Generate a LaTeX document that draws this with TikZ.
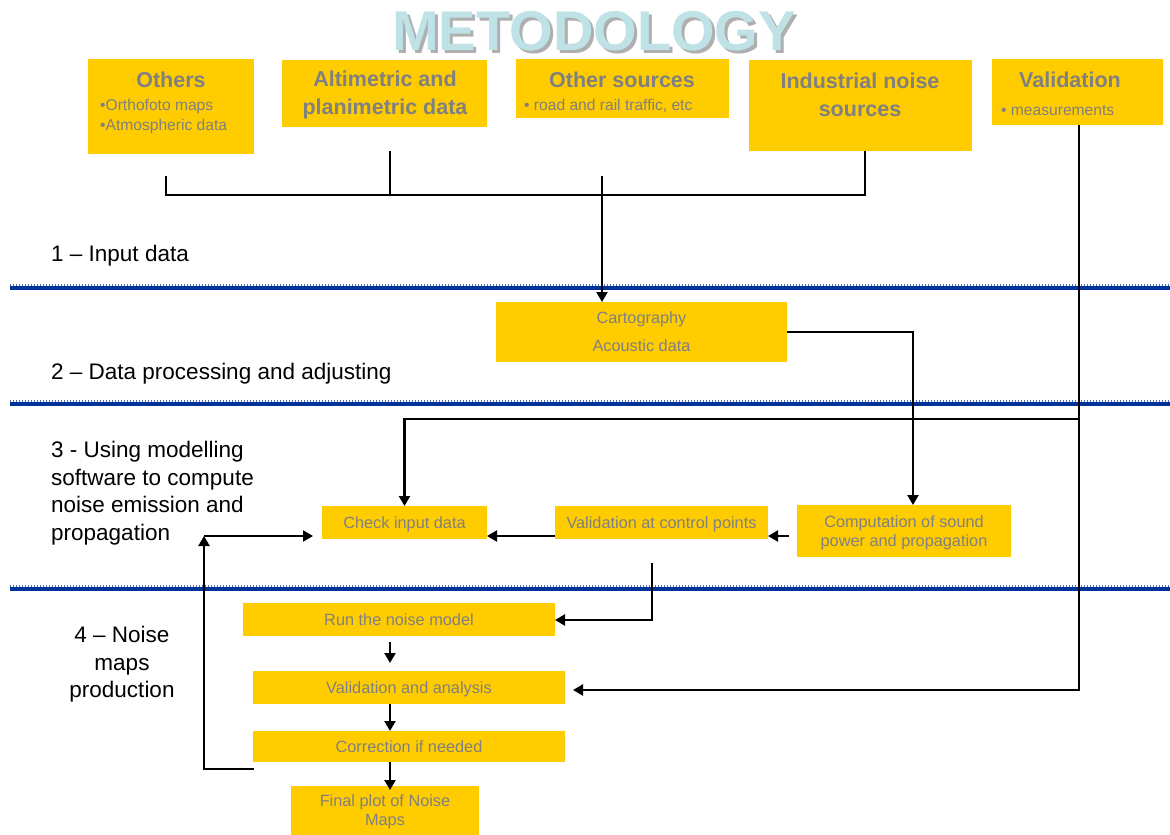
\documentclass[tikz,border=0pt]{standalone}
\usepackage{fontspec}
\setmainfont{Liberation Sans}
\usetikzlibrary{arrows.meta,calc}
\definecolor{yboxc}{RGB}{255,204,0}
\definecolor{tgray}{RGB}{128,128,128}
\definecolor{sepblue}{RGB}{0,51,153}
\definecolor{ttl}{RGB}{190,226,230}
\definecolor{shadowgray}{RGB}{175,175,175}
\begin{document}
\begin{tikzpicture}[x=1pt,y=-1pt,
 yb/.style={fill=yboxc, draw=none, inner sep=0pt, outer sep=0pt, anchor=north west, text=tgray, align=center, font=\fontsize{16.3}{19}\selectfont, text depth=-3pt},
 hdr/.style={text=tgray, font=\fontsize{21.5}{28}\selectfont\bfseries, inner sep=0pt},
 bul/.style={text=tgray, font=\fontsize{15.6}{20}\selectfont, inner sep=0pt, anchor=west},
 sec/.style={font=\fontsize{22.5}{27.5}\selectfont, inner sep=0pt, anchor=west, align=left},
 ln/.style={line width=2.2pt, black},
 arr/.style={ln, -{Triangle[length=10pt,width=11pt]}},
 sepline/.style={line width=4.5pt, sepblue},
 sepfuzz/.style={line width=1.2pt, sepblue!70, dash pattern=on 1pt off 2pt},
]
\useasboundingbox (0,0) rectangle (1170,835);

% title
\node[font=\fontsize{56}{60}\selectfont\bfseries, text=shadowgray, inner sep=0pt] at (597,34) {METODOLOGY};
\node[font=\fontsize{56}{60}\selectfont\bfseries, text=ttl, inner sep=0pt] (title) at (594,31) {METODOLOGY};

% separators
\foreach \yy in {288,404,589}{
  \draw[sepline] (10,\yy) -- (1170,\yy);
  \draw[sepfuzz] (10,\yy-3) -- (1170,\yy-3);
}

% top boxes
\node[yb, minimum width=166pt, minimum height=95pt] (oth) at (88,59) {};
\node[yb, minimum width=205pt, minimum height=67pt] (alt) at (282,60) {};
\node[yb, minimum width=213pt, minimum height=59pt] (osrc) at (516,59) {};
\node[yb, minimum width=223pt, minimum height=91pt] (ind) at (749,60) {};
\node[yb, minimum width=171pt, minimum height=66pt] (valid) at (992,59) {};

\node[hdr] (othh) at (171,80) {Others};
\node[bul] (othb1) at (100,106) {•Orthofoto maps};
\node[bul] (othb2) at (100,126) {•Atmospheric data};
\node[hdr, align=center] (alth) at (385,95) {Altimetric and\\planimetric data};
\node[hdr] (osrch) at (622,80) {Other sources};
\node[bul] (osrcb) at (524,106) {• road and rail traffic, etc};
\node[hdr, align=center] (indh) at (860,95) {Industrial noise\\sources};
\node[hdr] (validh) at (1070,80) {Validation};
\node[bul] (validb) at (1001,111) {• measurements};

% section labels
\node[sec] (s1) at (51,256) {1 -- Input data};
\node[sec] (s2) at (51,374) {2 -- Data processing and adjusting};
\node[sec, anchor=north west] (s3) at (51,441) {3 - Using modelling\\software to compute\\noise emission and\\propagation};
\node[sec, anchor=north, align=center] (s4) at (122,626) {4 -- Noise\\maps\\production};

% flow boxes
\node[yb, minimum width=291pt, minimum height=60pt, font=\fontsize{16.3}{28}\selectfont] (cart) at (496,302) {Cartography\\Acoustic data};
\node[yb, minimum width=214pt, minimum height=52pt] (comp) at (797,505) {Computation of sound\\power and propagation};
\node[yb, minimum width=213pt, minimum height=33pt] (val) at (555,506) {Validation at control points};
\node[yb, minimum width=165pt, minimum height=33pt] (chk) at (322,506) {Check input data};
\node[yb, minimum width=312pt, minimum height=33pt] (run) at (243,603) {Run the noise model};
\node[yb, minimum width=312pt, minimum height=33pt] (va) at (253,671) {Validation and analysis};
\node[yb, minimum width=312pt, minimum height=31pt] (cor) at (253,731) {Correction if needed};
\node[yb, minimum width=188pt, minimum height=49pt] (fin) at (291,786) {Final plot of Noise\\Maps};

% top bracket
\coordinate (b1) at (166,176);
\coordinate (b2) at (166,195);
\coordinate (b3) at (865,195);
\coordinate (b4) at (390,151);
\coordinate (b5) at (602,176);
\draw[ln] (b1) -- (b2) -- (b3) -- (b3 |- ind.south);
\draw[ln] (b4) -- (b4 |- b2);
\draw[arr] (b5) -- (b5 |- cart.north);

% cartography to computation
\draw[arr] (cart.east) -| ([xshift=9pt]comp.north);

% comp -> val -> chk
\coordinate (c1) at (789,536);
\draw[arr] (c1) -- (c1 -| val.east);
\draw[arr] (c1 -| val.west) -- (c1 -| chk.east);

% measurements line
\coordinate (m) at (1079,690);
\coordinate (t) at (1079,419);
\draw[arr] (valid.south -| m) -- (m) -- ([xshift=8pt]m -| va.east);
\draw[arr] (t) -| (chk.north);

% left loop
\coordinate (l0) at (254,769);
\coordinate (l) at (204,769);
\draw[arr] (l0) -- (l) -- (l |- c1);
\draw[arr] (l |- c1) -- ([xshift=-9pt]c1 -| chk.west);

% to run
\coordinate (r0) at (652,563);
\coordinate (r) at (652,620);
\draw[arr] (r0) -- (r) -- (r -| run.east);

% vertical small arrows
\coordinate (a1) at (390,642);
\draw[arr] (a1) -- ([yshift=8pt]a1 |- va.north);
\draw[arr] (va.south -| a1) -- (cor.north -| a1);
\draw[arr] (cor.south -| a1) -- ([yshift=-4pt]fin.north -| a1);
\end{tikzpicture}
\end{document}
